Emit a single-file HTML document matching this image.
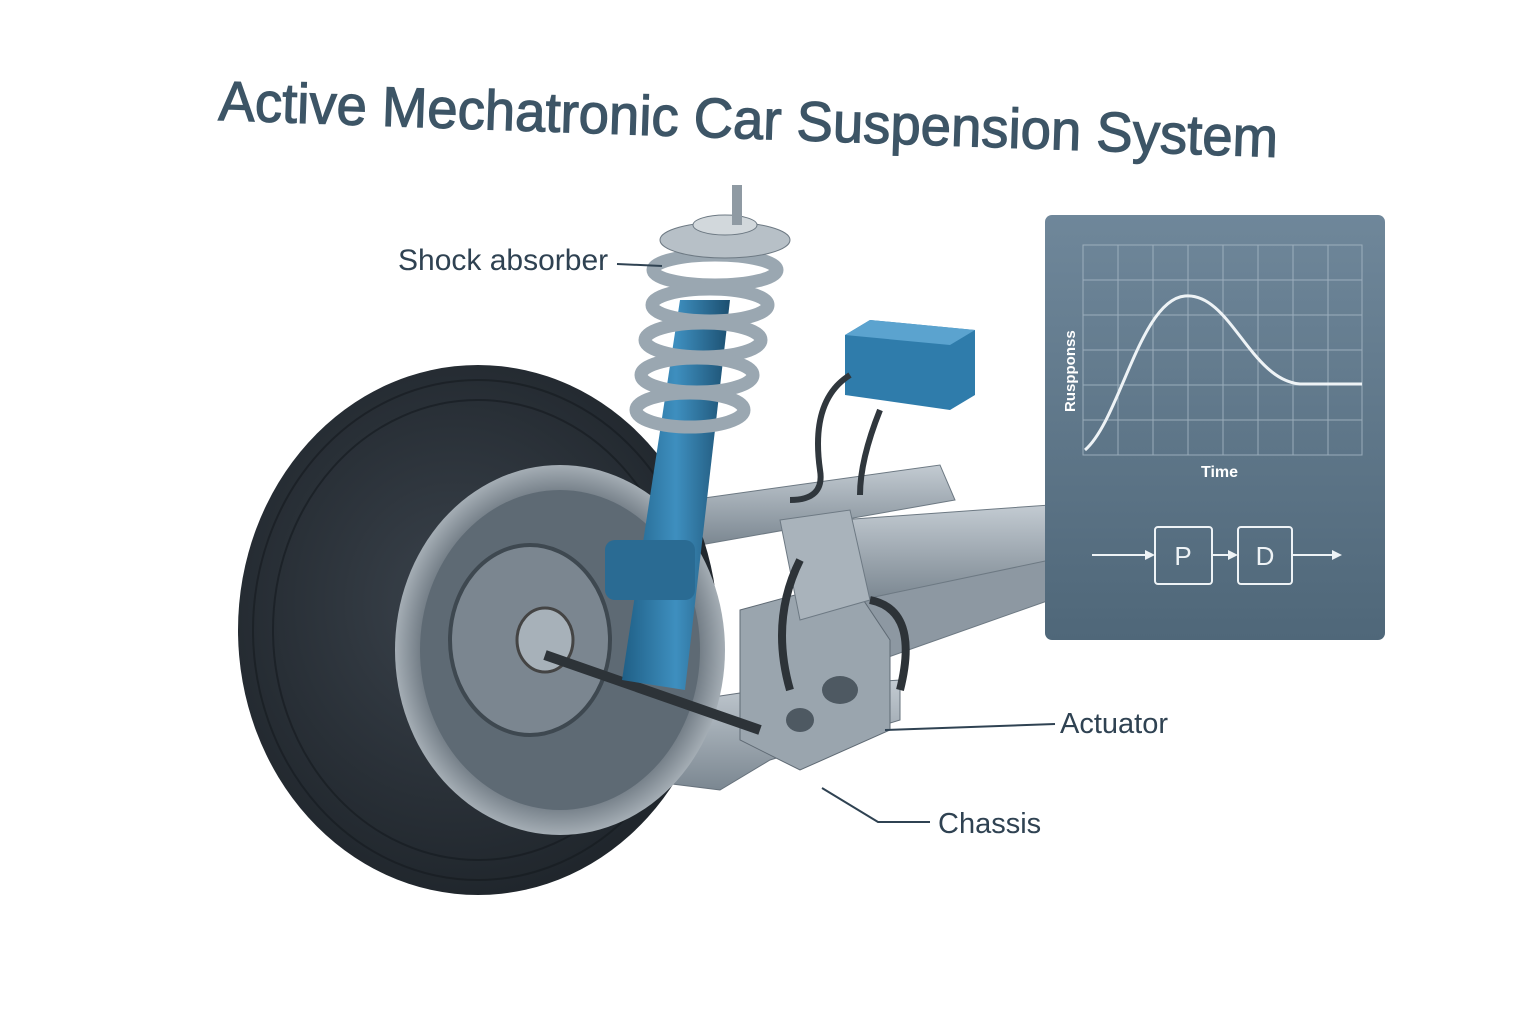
<!DOCTYPE html>
<html><head><meta charset="utf-8"><style>
html,body{margin:0;padding:0;background:#fff;}
svg{display:block}
text{font-family:"Liberation Sans",sans-serif}
</style></head><body>
<svg width="1536" height="1024" viewBox="0 0 1536 1024" xmlns="http://www.w3.org/2000/svg">
<defs>
<linearGradient id="pan" x1="0" y1="0" x2="0" y2="1"><stop offset="0" stop-color="#6f879a"/><stop offset="1" stop-color="#4f6779"/></linearGradient>
<radialGradient id="tire" cx="0.45" cy="0.45" r="0.6"><stop offset="0" stop-color="#3a424b"/><stop offset="1" stop-color="#1e242a"/></radialGradient>
<radialGradient id="rim" cx="0.5" cy="0.5" r="0.55"><stop offset="0" stop-color="#8e9aa4"/><stop offset="0.7" stop-color="#5b6670"/><stop offset="1" stop-color="#c4ccd2"/></radialGradient>
<linearGradient id="blue" x1="0" y1="0" x2="1" y2="0"><stop offset="0" stop-color="#1f5f86"/><stop offset="0.5" stop-color="#3e8fbf"/><stop offset="1" stop-color="#1c4f70"/></linearGradient>
<linearGradient id="steel" x1="0" y1="0" x2="0" y2="1"><stop offset="0" stop-color="#c3cbd2"/><stop offset="1" stop-color="#7b8791"/></linearGradient>
</defs>
<text x="218" y="120" font-size="56" fill="#3d5566" stroke="#3d5566" stroke-width="1.2" transform="rotate(2 218 120)" textLength="1060" lengthAdjust="spacingAndGlyphs">Active Mechatronic Car Suspension System</text>

<!-- chassis beams -->
<polygon points="690,500 940,465 955,500 700,545" fill="url(#steel)" stroke="#6d7983"/>
<polygon points="840,520 1050,505 1055,560 860,600" fill="url(#steel)" stroke="#6d7983"/>
<polygon points="860,600 1050,560 1050,600 880,660" fill="#8d98a2" stroke="#6d7983"/>
<polygon points="560,720 760,690 900,680 900,720 770,760 720,790 640,780" fill="url(#steel)" stroke="#66717b"/>
<polygon points="740,610 850,580 890,640 890,730 800,770 740,740" fill="#9aa5ae" stroke="#5f6a74"/>
<ellipse cx="840" cy="690" rx="18" ry="14" fill="#4e5962"/><ellipse cx="800" cy="720" rx="14" ry="12" fill="#4e5962"/>
<polygon points="780,520 850,510 870,600 800,620" fill="#a9b3bb" stroke="#6d7983"/>

<!-- tire -->
<ellipse cx="478" cy="630" rx="240" ry="265" fill="url(#tire)"/>
<g fill="none" stroke="#151a1f" stroke-width="2" opacity="0.6">
<ellipse cx="478" cy="630" rx="225" ry="250"/><ellipse cx="478" cy="630" rx="205" ry="230"/></g>
<ellipse cx="560" cy="650" rx="165" ry="185" fill="url(#rim)"/>
<ellipse cx="560" cy="650" rx="140" ry="160" fill="#5e6a74"/>
<ellipse cx="530" cy="640" rx="80" ry="95" fill="#7b8690" stroke="#3e4850" stroke-width="4"/>
<ellipse cx="545" cy="640" rx="28" ry="32" fill="#a7b1b9" stroke="#444" stroke-width="3"/>
<line x1="545" y1="655" x2="760" y2="730" stroke="#2d3338" stroke-width="10"/>
<path d="M800 560 Q770 620 790 690" stroke="#2d3338" stroke-width="8" fill="none"/>
<path d="M870 600 Q920 610 900 690" stroke="#2d3338" stroke-width="8" fill="none"/>

<!-- strut -->
<polygon points="680,300 730,300 685,690 622,680" fill="url(#blue)"/>
<rect x="605" y="540" width="90" height="60" rx="10" fill="#2a6b93"/>
<g fill="none" stroke="#9aa7b1" stroke-width="13">
<ellipse cx="715" cy="270" rx="62" ry="15"/><ellipse cx="710" cy="305" rx="58" ry="16"/><ellipse cx="703" cy="340" rx="58" ry="17"/><ellipse cx="697" cy="375" rx="56" ry="17"/><ellipse cx="690" cy="410" rx="54" ry="17"/></g>
<ellipse cx="725" cy="240" rx="65" ry="18" fill="#b7c0c7" stroke="#6d7983"/>
<ellipse cx="725" cy="225" rx="32" ry="10" fill="#d2d8dc" stroke="#6d7983"/>
<rect x="732" y="185" width="10" height="40" fill="#8f9aa3"/>

<!-- ECU -->
<polygon points="845,335 870,320 975,330 975,395 950,410 845,395" fill="#2f7cab"/>
<polygon points="845,335 870,320 975,330 950,345" fill="#5ba3cf"/>
<path d="M850 375 Q810 400 820 470 Q825 500 790 500" stroke="#30373d" stroke-width="6" fill="none"/>
<path d="M880 410 Q860 460 860 495" stroke="#30373d" stroke-width="6" fill="none"/>

<!-- panel -->
<rect x="1045" y="215" width="340" height="425" rx="7" fill="url(#pan)"/>
<g stroke="#a9bac7" stroke-width="1" opacity="0.8">
<rect x="1083" y="245" width="279" height="210" fill="none"/>
<line x1="1118" y1="245" x2="1118" y2="455"/><line x1="1153" y1="245" x2="1153" y2="455"/><line x1="1188" y1="245" x2="1188" y2="455"/><line x1="1223" y1="245" x2="1223" y2="455"/><line x1="1258" y1="245" x2="1258" y2="455"/><line x1="1293" y1="245" x2="1293" y2="455"/><line x1="1328" y1="245" x2="1328" y2="455"/>
<line x1="1083" y1="280" x2="1362" y2="280"/><line x1="1083" y1="315" x2="1362" y2="315"/><line x1="1083" y1="350" x2="1362" y2="350"/><line x1="1083" y1="385" x2="1362" y2="385"/><line x1="1083" y1="420" x2="1362" y2="420"/>
</g>
<path d="M1085 450 C1120 420 1140 300 1185 296 C1230 292 1250 380 1300 384 L1362 384" stroke="#eef3f6" stroke-width="3" fill="none"/>
<text x="1075" y="412" font-size="15" font-weight="bold" fill="#fff" transform="rotate(-90 1075 412)">Ruspponss</text>
<text x="1201" y="477" font-size="16" font-weight="bold" fill="#fff">Time</text>
<g stroke="#eef3f6" stroke-width="2" fill="none">
<line x1="1092" y1="555" x2="1150" y2="555"/><line x1="1212" y1="555" x2="1235" y2="555"/><line x1="1292" y1="555" x2="1335" y2="555"/>
<rect x="1155" y="527" width="57" height="57" rx="3"/><rect x="1238" y="527" width="54" height="57" rx="3"/>
</g>
<g fill="#eef3f6"><polygon points="1155,555 1145,550 1145,560"/><polygon points="1238,555 1228,550 1228,560"/><polygon points="1342,555 1332,550 1332,560"/></g>
<text x="1183" y="565" font-size="26" fill="#eef3f6" text-anchor="middle">P</text>
<text x="1265" y="565" font-size="26" fill="#eef3f6" text-anchor="middle">D</text>

<!-- labels -->
<text x="398" y="270" font-size="30" fill="#2f4252">Shock absorber</text>
<line x1="617" y1="264" x2="662" y2="266" stroke="#2f4252" stroke-width="2"/>
<text x="1060" y="733" font-size="29" fill="#2f4252">Actuator</text>
<line x1="885" y1="730" x2="1055" y2="724" stroke="#2f4252" stroke-width="2"/>
<text x="938" y="833" font-size="29" fill="#2f4252">Chassis</text>
<polyline points="822,788 878,822 930,822" stroke="#2f4252" stroke-width="2" fill="none"/>
</svg>
</body></html>
